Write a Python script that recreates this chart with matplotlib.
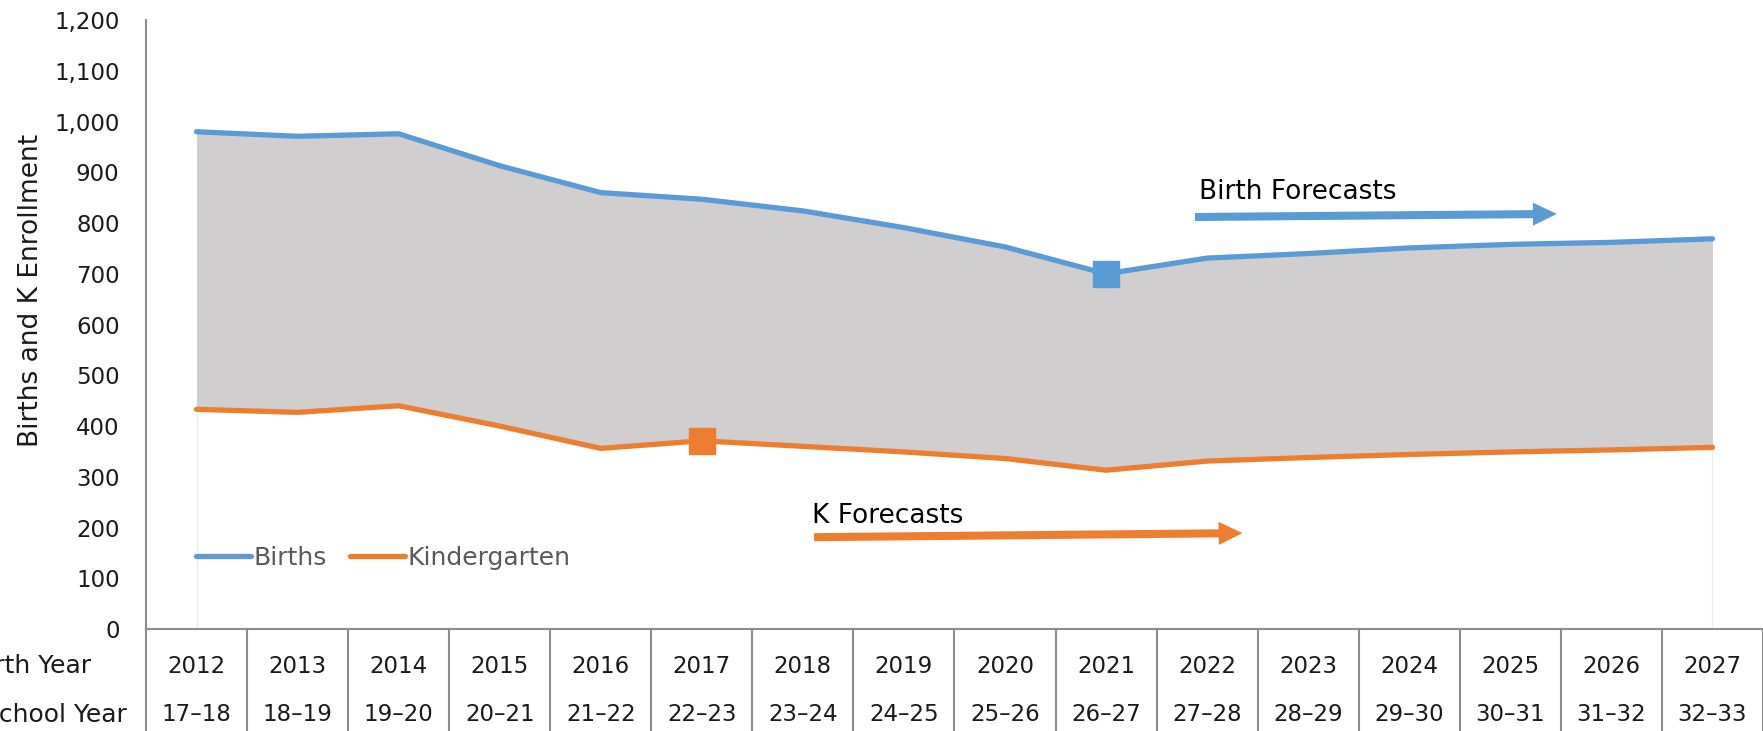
import matplotlib.pyplot as plt
import numpy as np
from matplotlib.transforms import blended_transform_factory

# data
birth_years = ["2012", "2013", "2014", "2015", "2016", "2017", "2018", "2019",
               "2020", "2021", "2022", "2023", "2024", "2025", "2026", "2027"]
school_years = ["17\u201318", "18\u201319", "19\u201320", "20\u201321", "21\u201322", "22\u201323",
                "23\u201324", "24\u201325", "25\u201326", "26\u201327", "27\u201328", "28\u201329",
                "29\u201330", "30\u201331", "31\u201332", "32\u201333"]
births = [980, 971, 976, 913, 860, 847, 824, 791, 753, 700, 731, 740, 751, 758, 762, 769]
kinder = [433, 427, 440, 400, 356, 371, 360, 349, 336, 313, 331, 338, 344, 349, 353, 358]
birth_marker_year = "2021"
k_marker_year = "2017"

blue = "#5B9BD5"
orange = "#ED7D31"
fill_gray = "#D0CECF"
axis_gray = "#8C8C8C"
txt = "#1a1a1a"

plt.rcParams['font.family'] = ['DejaVu Sans']

fig = plt.figure(figsize=(17.63, 7.31), dpi=100)
ax = fig.add_axes([0.0828, 0.1395, 0.9172, 0.833])

x = np.arange(len(birth_years))
ax.fill_between(x, kinder, births, color=fill_gray, linewidth=0, zorder=1)
# faint edges of the area down to the baseline
ax.vlines([x[0], x[-1]], 0, [kinder[0], kinder[-1]], color="#EDEDED", lw=1, zorder=0)

ax.plot(x, births, color=blue, lw=3.8, solid_capstyle='round', label="Births", zorder=3)
ax.plot(x, kinder, color=orange, lw=3.8, solid_capstyle='round', label="Kindergarten", zorder=3)

bi = birth_years.index(birth_marker_year)
ki = birth_years.index(k_marker_year)
ax.plot(x[bi], births[bi], 's', color=blue, ms=18.5, zorder=4)
ax.plot(x[ki], kinder[ki], 's', color=orange, ms=18.5, zorder=4)

# forecast arrows
arrow_style = "simple,head_length=0.86,head_width=0.83,tail_width=0.29"
ax.annotate("", xy=(13.46, 818), xytext=(9.88, 812),
            arrowprops=dict(arrowstyle=arrow_style, color=blue, lw=0, mutation_scale=20,
                            shrinkA=0, shrinkB=0))
ax.text(9.92, 847, "Birth Forecasts", fontsize=19, color="black", ha="left", va="baseline")
ax.annotate("", xy=(10.35, 189), xytext=(6.11, 181),
            arrowprops=dict(arrowstyle=arrow_style, color=orange, lw=0, mutation_scale=20,
                            shrinkA=0, shrinkB=0))
ax.text(6.09, 209, "K Forecasts", fontsize=19, color="black", ha="left", va="baseline")

ax.set_xlim(-0.5, len(birth_years) - 0.5)
ax.set_ylim(0, 1200)
ax.set_yticks(np.arange(0, 1201, 100))
ax.set_yticklabels([f"{v:,}" for v in range(0, 1201, 100)])
ax.tick_params(axis='y', length=0, pad=19, labelsize=16.5, labelcolor=txt)
ax.set_xticks([])
ax.set_ylabel("Births and K Enrollment", fontsize=19, color=txt)
ax.yaxis.set_label_coords(-0.063, 0.556)

for s in ["top", "right"]:
    ax.spines[s].set_visible(False)
for s in ["left", "bottom"]:
    ax.spines[s].set_color(axis_gray)
    ax.spines[s].set_linewidth(1.5)

# category table under the axis
tr = blended_transform_factory(ax.transData, ax.transAxes)
for b in np.arange(-0.5, len(birth_years), 1.0):
    ax.plot([b, b], [0, -0.17], transform=tr, color=axis_gray, lw=1.5, clip_on=False)
for i in x:
    ax.text(i, -0.061, birth_years[i], transform=tr, ha="center", va="center",
            fontsize=16.5, color=txt)
    ax.text(i, -0.141, school_years[i], transform=tr, ha="center", va="center",
            fontsize=16.5, color=txt)
ax.text(-0.034, -0.061, "Birth Year", transform=ax.transAxes, ha="right", va="center",
        fontsize=18, color=txt, clip_on=False)
ax.text(-0.0118, -0.141, "School Year", transform=ax.transAxes, ha="right", va="center",
        fontsize=18, color=txt, clip_on=False)

leg = ax.legend(loc="center left", bbox_to_anchor=(0.017, 0.117), ncol=2, frameon=False,
                fontsize=18, handlelength=2.2, handletextpad=0.12, columnspacing=0.9)
for t in leg.get_texts():
    t.set_color("#595959")

fig.savefig("out.png", dpi=100)
